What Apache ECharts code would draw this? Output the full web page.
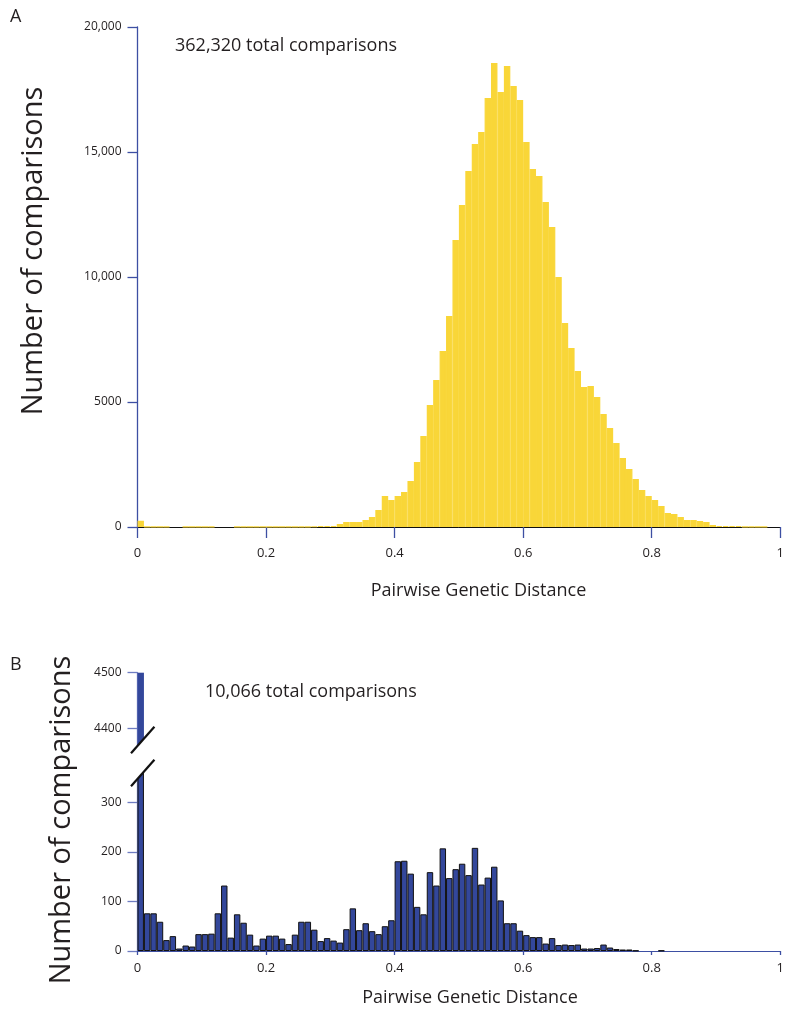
<!DOCTYPE html>
<html><head><meta charset="utf-8">
<script src="https://cdn.jsdelivr.net/npm/echarts@6/dist/echarts.min.js"></script>
<style>html,body{margin:0;padding:0;background:#fff}#c{width:787px;height:1014px}</style>
</head><body><div id="c"></div>
<script>
// ---------- DATA ----------
// 100 bins of width 0.01 from 0 to 1 (bin start values)
const binStarts = [];
for (let k = 0; k < 100; k++) binStarts.push((k / 100).toFixed(2));

// Panel A: 362,320 total comparisons
const countsA = [
  250, 10, 5, 5, 5, 0, 0, 5, 5, 5,
  5, 5, 0, 0, 0, 5, 5, 5, 5, 5,
  5, 5, 5, 10, 10, 10, 15, 20, 40, 40,
  40, 120, 200, 200, 200, 280, 400, 680, 1240, 1080,
  1240, 1400, 1840, 2600, 3640, 4880, 5880, 7040, 8440, 11480,
  12880, 14240, 15320, 15800, 17160, 18560, 17400, 18440, 17640, 17080,
  15400, 14320, 14040, 13000, 12000, 10000, 8160, 7160, 6240, 5600,
  5640, 5200, 4520, 3960, 3360, 2760, 2320, 1920, 1480, 1240,
  1080, 840, 560, 520, 400, 280, 280, 240, 200, 80,
  40, 40, 40, 40, 10, 10, 5, 5, 0, 0
];

// Panel B: 10,066 total comparisons
const countsB = [
  4500, 76, 76, 59, 22, 30, 5, 11, 9, 34,
  34, 35, 76, 132, 27, 74, 57, 33, 11, 25,
  31, 31, 25, 14, 33, 59, 59, 43, 20, 26,
  21, 17, 44, 86, 42, 56, 40, 34, 50, 62,
  181, 182, 156, 89, 74, 159, 132, 207, 147, 165,
  176, 153, 208, 134, 148, 170, 102, 56, 56, 41,
  32, 28, 28, 15, 26, 12, 13, 12, 13, 5,
  5, 6, 13, 7, 4, 3, 3, 1, 0, 0,
  0, 1, 0, 0, 0, 0, 0, 0, 0, 0,
  0, 0, 0, 0, 0, 0, 0, 0, 0, 0
];

const xTickLabels = { 0: '0', 0.2: '0.2', 0.4: '0.4', 0.6: '0.6', 0.8: '0.8', 1: '1' };
const yTicksA = [0, 5000, 10000, 15000, 20000];
const yLabelsA = { 0: '0', 5000: '5000', 10000: '10,000', 15000: '15,000', 20000: '20,000' };
const yTicksBLow = [0, 100, 200, 300];
const yTicksBHigh = [4400, 4500];

// ---------- STYLE / LAYOUT ----------
const FONT = '"Open Sans", "Noto Sans", sans-serif';
const TXT = '#231f20';
const AXBLUE = '#3d4fa3';
const LIGHTBLUE = '#6e7cc2';
const YELLOW = '#f9d638';
const NAVY = '#33479b';
const L = 137.5, R = 5.5;
const A = { top: 27, height: 500 };
const BL = { top: 768, height: 183 };          // lower part of panel B
const BH = { top: 672.7, height: 77.3 };       // upper part of panel B
const BH_MIN = 4362, BL_MAX = 369;

const chart = echarts.init(document.getElementById('c'), null, { renderer: 'canvas' });

function valueX(gridIndex, lineColor, tickLen, margin) {
  return {
    type: 'value', gridIndex, min: 0, max: 1, interval: 0.2, position: 'bottom',
    axisLine: { show: true, onZero: false, lineStyle: { color: lineColor, width: 1 } },
    axisTick: { show: true, inside: false, length: tickLen, lineStyle: { color: AXBLUE, width: 1.3 } },
    axisLabel: { margin, fontFamily: FONT, fontSize: 13, color: TXT,
      formatter: v => xTickLabels[v] !== undefined ? xTickLabels[v] : '' },
    splitLine: { show: false }
  };
}
function catX(gridIndex) {
  return { type: 'category', gridIndex, data: binStarts, boundaryGap: true, show: false };
}

const option = {
  animation: false,
  backgroundColor: '#fff',
  grid: [
    { left: L, right: R, top: A.top, height: A.height, containLabel: false },
    { left: L, right: R, top: BL.top, height: BL.height, containLabel: false },
    { left: L, right: R, top: BH.top, height: BH.height, containLabel: false }
  ],
  xAxis: [
    catX(0),
    valueX(0, '#111', 11, 20),
    catX(1),
    valueX(1, AXBLUE, 4, 11),
    catX(2),
    { type: 'value', gridIndex: 2, min: 0, max: 1, show: false }
  ],
  yAxis: [
    { type: 'value', gridIndex: 0, min: 0, max: 20000, interval: 5000,
      axisLine: { show: true, lineStyle: { color: AXBLUE, width: 1.3 } },
      axisTick: { show: true, length: 10, lineStyle: { color: AXBLUE, width: 1.3 }, customValues: yTicksA },
      axisLabel: { margin: 16, fontFamily: FONT, fontSize: 12, color: TXT, customValues: yTicksA,
        formatter: v => yLabelsA[v] },
      splitLine: { show: false } },
    { type: 'value', gridIndex: 1, min: 0, max: BL_MAX,
      axisLine: { show: true, lineStyle: { color: LIGHTBLUE, width: 1.3 } },
      axisTick: { show: true, length: 10, lineStyle: { color: LIGHTBLUE, width: 1.3 }, customValues: yTicksBLow },
      axisLabel: { margin: 16, fontFamily: FONT, fontSize: 12, color: TXT, customValues: yTicksBLow,
        formatter: v => String(v) },
      splitLine: { show: false } },
    { type: 'value', gridIndex: 2, min: BH_MIN, max: 4500,
      axisLine: { show: true, lineStyle: { color: LIGHTBLUE, width: 1.3 } },
      axisTick: { show: true, length: 10, lineStyle: { color: LIGHTBLUE, width: 1.3 }, customValues: yTicksBHigh },
      axisLabel: { margin: 16, fontFamily: FONT, fontSize: 12, color: TXT, customValues: yTicksBHigh,
        formatter: v => String(v) },
      splitLine: { show: false } }
  ],
  series: [
    { type: 'bar', xAxisIndex: 0, yAxisIndex: 0, data: countsA.map(v => v > 0 ? v : '-'), barCategoryGap: '0%',
      itemStyle: { color: YELLOW, borderColor: YELLOW, borderWidth: 1.2 }, clip: true, z: 1 },
    { type: 'bar', xAxisIndex: 2, yAxisIndex: 1, data: countsB.map(v => v > 0 ? v : '-'), barCategoryGap: '0%',
      itemStyle: { color: NAVY, borderColor: '#111', borderWidth: 1 }, clip: true, z: 1 },
    { type: 'bar', xAxisIndex: 4, yAxisIndex: 2, data: countsB.map(v => v > BH_MIN ? v : '-'), barCategoryGap: '0%',
      itemStyle: { color: NAVY, borderColor: NAVY, borderWidth: 0 }, clip: true, z: 1 }
  ]
};
chart.setOption(option);

// ---------- decorations: texts and axis-break slashes ----------
const x0 = chart.convertToPixel({ xAxisIndex: 3 }, 0);
const x1 = chart.convertToPixel({ xAxisIndex: 3 }, 0.01);
const cx = (x0 + x1) / 2 + 2;
const hw = 11.7, hh = 13.3;
const s1 = BH.top + BH.height - 10;   // centre y of upper slash
const s2 = BL.top + 5;                // centre y of lower slash
const txt = (text, x, y, size, align, extra) => Object.assign({
  type: 'text', x, y, z: 100,
  style: { text, fontFamily: FONT, fontSize: size, fill: TXT, align: align || 'left', verticalAlign: 'middle' }
}, extra || {});

chart.setOption({
  graphic: [
    { type: 'polygon', z: 50, shape: { points: [[cx - hw, s1 + hh], [cx + hw, s1 - hh], [cx + hw, s2 - hh], [cx - hw, s2 + hh]] },
      style: { fill: '#fff' } },
    { type: 'line', z: 51, shape: { x1: cx - hw, y1: s1 + hh, x2: cx + hw, y2: s1 - hh }, style: { stroke: '#111', lineWidth: 2.2 } },
    { type: 'line', z: 51, shape: { x1: cx - hw, y1: s2 + hh, x2: cx + hw, y2: s2 - hh }, style: { stroke: '#111', lineWidth: 2.2 } },
    txt('A', 10, 17, 18),
    txt('B', 10, 665, 18),
    txt('362,320 total comparisons', 175, 46, 18),
    txt('10,066 total comparisons', 205, 692, 18),
    txt('Pairwise Genetic Distance', 478.5, 591, 18, 'center'),
    txt('Pairwise Genetic Distance', 470, 998, 18, 'center'),
    { type: 'text', x: 34, y: 251, rotation: Math.PI / 2, z: 100,
      style: { text: 'Number of comparisons', fontFamily: FONT, fontSize: 29, fill: TXT, align: 'center', verticalAlign: 'middle' } },
    { type: 'text', x: 62, y: 820, rotation: Math.PI / 2, z: 100,
      style: { text: 'Number of comparisons', fontFamily: FONT, fontSize: 29, fill: TXT, align: 'center', verticalAlign: 'middle' } }
  ]
});
</script></body></html>
